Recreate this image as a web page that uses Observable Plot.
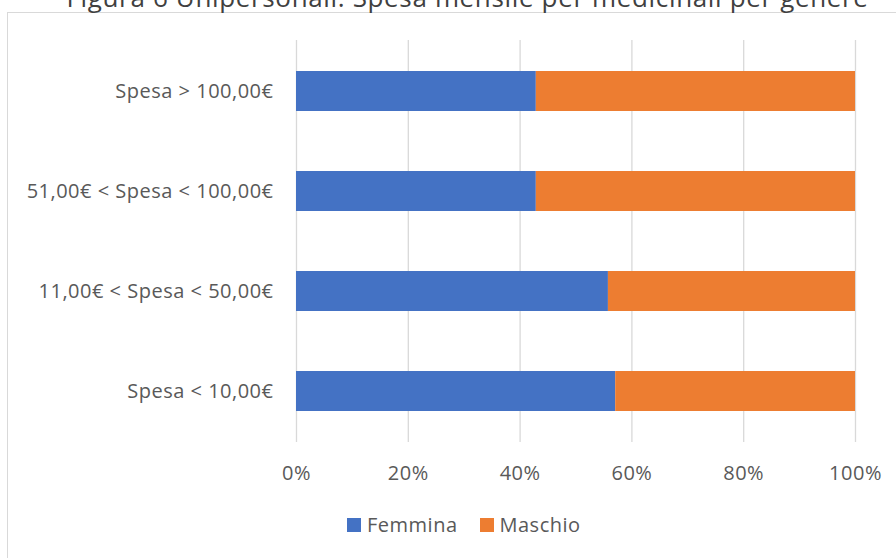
<!DOCTYPE html>
<html>
<head>
<meta charset="utf-8">
<script src="https://cdn.jsdelivr.net/npm/d3@7"></script>
<script src="https://cdn.jsdelivr.net/npm/@observablehq/plot@0.6"></script>
<style>
  html, body { margin: 0; padding: 0; background: #fff; }
  #wrap { position: relative; width: 896px; height: 558px; overflow: hidden; font-family: "Open Sans", sans-serif; }
  #title { position: absolute; left: 0; width: 935px; top: -16px; line-height: 26px; text-align: center; font-size: 26px; letter-spacing: 0.65px; color: #404040; white-space: nowrap; }
  #frame { position: absolute; left: 7px; top: 12px; width: 1200px; height: 1200px; border: 1px solid #d9d9d9; }
  #chart { position: absolute; left: 0; top: 0; }
  #legend { position: absolute; left: 347px; top: 511px; display: flex; align-items: center; font-size: 20px; letter-spacing: 0.5px; color: #595959; }
  #legend .item { display: flex; align-items: center; margin-right: 22px; }
  #legend .sw { width: 14px; height: 14px; margin-right: 6px; }
  #chart svg text { letter-spacing: 0.5px; }
</style>
</head>
<body>
<div id="wrap">
  <div id="frame"></div>
  <div id="title">Figura 6 Unipersonali: Spesa mensile per medicinali per genere</div>
  <div id="chart"></div>
  <div id="legend"></div>
</div>
<script>
const categories = ["Spesa > 100,00€", "51,00€ < Spesa < 100,00€", "11,00€ < Spesa < 50,00€", "Spesa < 10,00€"];
const series = ["Femmina", "Maschio"];
const femmina = [42.9, 42.9, 55.8, 57.1];
const maschio = [57.1, 57.1, 44.2, 42.9];
const colors = ["#4472C4", "#ED7D31"];
const xTicks = [0, 20, 40, 60, 80, 100];

const data = [];
categories.forEach((c, i) => {
  data.push({cat: c, genere: series[0], v: femmina[i] / (femmina[i] + maschio[i])});
  data.push({cat: c, genere: series[1], v: maschio[i] / (femmina[i] + maschio[i])});
});

const chart = Plot.plot({
  width: 896,
  height: 492,
  marginLeft: 296,
  marginRight: 41,
  marginTop: 40,
  marginBottom: 50,
  style: {fontFamily: "'Open Sans', sans-serif", fontSize: "20px", color: "#595959", background: "transparent"},
  x: {domain: [0, 1], ticks: xTicks.map(d => d / 100), tickFormat: d => Math.round(d * 100) + "%", grid: false, label: null},
  y: {domain: categories, padding: 0.6, paddingOuter: 0.3, label: null},
  color: {domain: series, range: colors},
  marks: [
    Plot.ruleX(xTicks.map(d => d / 100), {stroke: "#d9d9d9", strokeWidth: 1.3}),
    Plot.barX(data, Plot.stackX({x: "v", y: "cat", fill: "genere", order: series})),
    Plot.axisX({ticks: xTicks.map(d => d / 100), tickFormat: d => Math.round(d * 100) + "%", tickSize: 0, tickPadding: 23, fontSize: 20, label: null}),
    Plot.axisY({tickSize: 0, tickPadding: 23, fontSize: 20, label: null})
  ]
});
document.getElementById("chart").appendChild(chart);

const legend = document.getElementById("legend");
series.forEach((s, i) => {
  const it = document.createElement("div");
  it.className = "item";
  it.innerHTML = `<div class="sw" style="background:${colors[i]}"></div><span>${s}</span>`;
  legend.appendChild(it);
});
</script>
</body>
</html>
